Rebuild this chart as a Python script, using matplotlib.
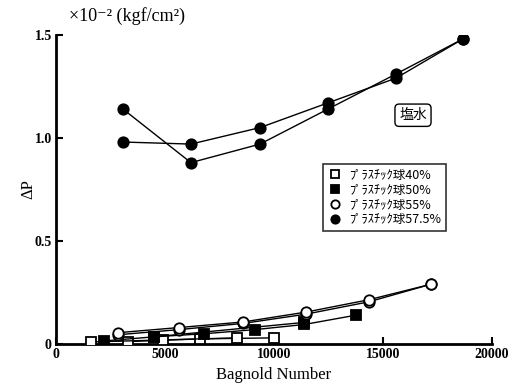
import matplotlib
matplotlib.use("Agg")
import matplotlib.pyplot as plt

# ---------------------------------------------------------------------------
# Data: two runs per concentration
# ---------------------------------------------------------------------------
n40_a = [1600, 4900, 8300]
dp40_a = [0.010, 0.020, 0.030]
n40_b = [3300, 6600, 10000]
dp40_b = [0.012, 0.025, 0.030]

n50_a = [2200, 4500, 6800, 9130, 11400, 13760]
dp50_a = [0.015, 0.035, 0.050, 0.070, 0.095, 0.140]
n50_b = [4500, 11400]
dp50_b = [0.035, 0.105]

n55_a = [2840, 5640, 8580, 11470, 14360, 17200]
dp55_a = [0.055, 0.080, 0.107, 0.155, 0.215, 0.290]
n55_b = [2840, 5640, 8580, 11470, 14360, 17200]
dp55_b = [0.045, 0.070, 0.100, 0.145, 0.205, 0.290]

n575_a = [3070, 6190, 9360, 12480, 15600, 18670]
dp575_a = [0.98, 0.97, 1.05, 1.17, 1.29, 1.48]
n575_b = [3070, 6190, 9360, 12480, 15600, 18670]
dp575_b = [1.14, 0.88, 0.97, 1.14, 1.31, 1.48]

labels = ["ﾌﾟﾗｽﾁｯｸ球40%", "ﾌﾟﾗｽﾁｯｸ球50%", "ﾌﾟﾗｽﾁｯｸ球55%", "ﾌﾟﾗｽﾁｯｸ球57.5%"]
xticks = [0, 5000, 10000, 15000, 20000]
yticks = [0, 0.5, 1.0, 1.5]
yticklabels = ["0", "0.5", "1.0", "1.5"]

serif = ["Liberation Serif", "DejaVu Serif"]
jp = ["Noto Sans CJK JP", "DejaVu Sans"]

fig = plt.figure(figsize=(5.14, 3.87), dpi=100)
ax = fig.add_axes([0.109, 0.111, 0.848, 0.799])

ms = 7.5
lw = 1.0
styles = [
    (n40_a, dp40_a, n40_b, dp40_b, dict(marker="s", mfc="white", mec="black")),
    (n50_a, dp50_a, n50_b, dp50_b, dict(marker="s", mfc="black", mec="black")),
    (n55_a, dp55_a, n55_b, dp55_b, dict(marker="o", mfc="white", mec="black")),
    (n575_a, dp575_a, n575_b, dp575_b, dict(marker="o", mfc="black", mec="black")),
]
handles = []
for (xa, ya, xb, yb, st), lab in zip(styles, labels):
    ax.plot(xb, yb, color="black", lw=lw, ms=ms, mew=1.3, zorder=3, **st)
    ax.plot(xa, ya, color="black", lw=lw, ms=ms, mew=1.3, zorder=3, **st)
    h, = ax.plot([], [], ls="none", ms=6, mew=1.3, **st)
    handles.append(h)

ax.set_xlim(0, 20000)
ax.set_ylim(0, 1.5)
ax.set_xticks(xticks)
ax.set_yticks(yticks)
ax.set_yticklabels(yticklabels)
ax.spines["top"].set_visible(False)
ax.spines["right"].set_visible(False)
ax.spines["left"].set_linewidth(2)
ax.spines["bottom"].set_linewidth(2)
ax.tick_params(direction="in", length=5, width=1.5, pad=3)
for t in ax.get_xticklabels() + ax.get_yticklabels():
    t.set_fontfamily(serif)
    t.set_fontweight("bold")
    t.set_fontsize(10)

ax.set_xlabel("Bagnold Number", fontfamily=serif, fontsize=12, labelpad=4)
ax.set_ylabel("ΔP", fontfamily=serif, fontsize=12, labelpad=-1)
fig.text(0.135, 0.958, "×10⁻² (kgf/cm²)", fontfamily=serif, fontsize=13,
         ha="left", va="center")

ax.text(16380, 1.11, "塩水", fontfamily=jp, fontsize=10, ha="center", va="center",
        bbox=dict(boxstyle="round,pad=0.3", fc="white", ec="black", lw=1))

leg = ax.legend(handles, labels, loc="upper left", bbox_to_anchor=(0.612, 0.583),
                borderaxespad=0, prop={"family": jp, "size": 9}, frameon=True,
                fancybox=False, edgecolor="black", handletextpad=0.5,
                labelspacing=0.15, handlelength=1.2, borderpad=0.4)
leg.get_frame().set_linewidth(1.2)

fig.savefig("out.png", dpi=100)
